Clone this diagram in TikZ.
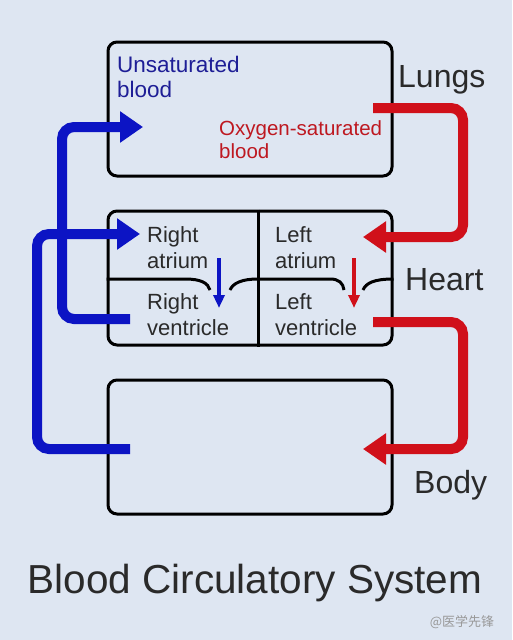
\documentclass[tikz,border=0pt]{standalone}
\usepackage{fontspec}
\setmainfont{Liberation Sans}
\newfontfamily\cjk{Noto Sans CJK SC}
\usetikzlibrary{arrows.meta}
\definecolor{bg}{RGB}{222,230,242}
\definecolor{pipeblue}{RGB}{12,20,196}
\definecolor{pipered}{RGB}{208,16,26}
\definecolor{txtblue}{RGB}{30,30,150}
\definecolor{txtred}{RGB}{190,24,32}
\definecolor{txtdark}{RGB}{42,42,42}
\begin{document}
\begin{tikzpicture}[x=1pt,y=-1pt,
  organ/.style={draw=black,line width=3pt,rounded corners=9pt,minimum width=284pt,minimum height=134pt,inner sep=0pt},
  pipe/.style={line width=10pt,rounded corners=12pt,-{Triangle[length=23pt,width=30pt]}},
  valve/.style={line width=4pt,-{Triangle[length=13pt,width=11pt]}},
  chamber/.style={font=\fontsize{22}{26}\selectfont,text=txtdark,align=left,anchor=base west,inner sep=0pt},
  organname/.style={font=\fontsize{32}{36}\selectfont,text=txtdark,anchor=base west,inner sep=0pt}]
\fill[bg] (0,0) rectangle (512,640);
\useasboundingbox (0,0) rectangle (512,640);
% organs
\node[organ] (lungs) at (250,109) {};
\node[organ] (heart) at (250,278) {};
\node[organ] (body) at (250,447) {};
\coordinate (septum) at (258,279);
\draw[line width=3pt] (heart.north -| septum) -- (heart.south -| septum);
\draw[line width=3pt] (heart.west |- septum) -- (185,279) .. controls (201,279) and (208,283) .. (210,290)
  (230,290) .. controls (233,283) and (242,279) .. (septum) -- (330,279) .. controls (339,279) and (343,283) .. (344,290)
  (363,290) .. controls (366,283) and (374,279) .. (heart.east |- septum);
% labels (anchored on the last line)
\node[chamber,text=txtblue,font=\fontsize{22.5}{25}\selectfont] (unsat) at (117,97) {Unsaturated\\blood};
\node[chamber,text=txtred,font=\fontsize{20.5}{23}\selectfont] (oxy) at (219,158) {Oxygen-saturated\\blood};
\node[chamber] (ra) at (147,268) {Right\\atrium};
\node[chamber] (rv) at (147,335) {Right\\ventricle};
\node[chamber] (la) at (275,268) {Left\\atrium};
\node[chamber] (lv) at (275,335) {Left\\ventricle};
\node[organname] (lungsname) at (398,87) {Lungs};
\node[organname] (heartname) at (405,290) {Heart};
\node[organname] (bodyname) at (414,493) {Body};
\node[text=txtdark,font=\fontsize{40.5}{44}\selectfont,anchor=base,inner sep=0pt] (title) at (255,593) {Blood Circulatory System};
\node[text=black!40,font=\cjk\fontsize{13}{15}\selectfont,anchor=base,inner sep=0pt] (mark) at (462,626) {@医学先锋};
% blood flow
\coordinate (rvout) at (130,319);
\coordinate (lungin) at (143,127);
\coordinate (bodyout) at (130,449);
\coordinate (rain) at (140,234);
\coordinate (lungout) at (373,108);
\coordinate (lain) at (363,237);
\coordinate (lvout) at (373,322);
\coordinate (bodyin) at (363,449);
\coordinate (ravalve) at (219,258);
\coordinate (rvvalve) at (219,308);
\coordinate (lavalve) at (354,258);
\coordinate (lvvalve) at (354,308);
\draw[pipe,pipeblue] (rvout) -- ++(-68,0) |- (lungin);
\draw[pipe,pipeblue] (bodyout) -- ++(-93,0) |- (rain);
\draw[pipe,pipered] (lungout) -- ++(90,0) |- (lain);
\draw[pipe,pipered] (lvout) -- ++(90,0) |- (bodyin);
\draw[valve,pipeblue] (ravalve) -- (rvvalve);
\draw[valve,pipered] (lavalve) -- (lvvalve);
\end{tikzpicture}
\end{document}
